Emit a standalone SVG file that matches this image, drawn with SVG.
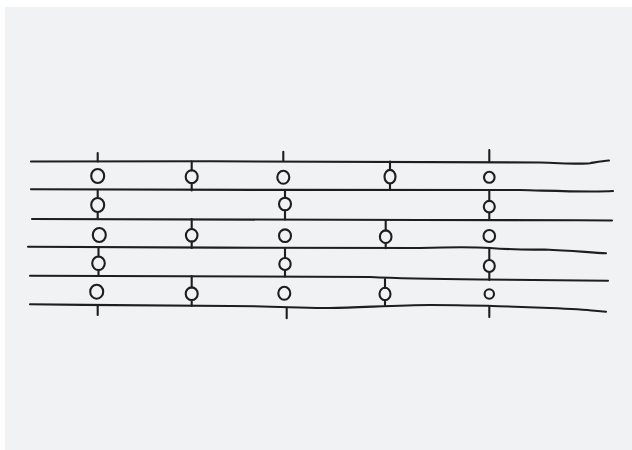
<svg xmlns="http://www.w3.org/2000/svg" width="632" height="450" viewBox="0 0 632 450">
  <style>
    .ink { fill: none; stroke: #1e1e1e; stroke-width: 2.1; stroke-linecap: round; stroke-linejoin: round; }
  </style>
  <rect x="0" y="0" width="632" height="450" fill="#ffffff"/>
  <rect x="5" y="7" width="627" height="443" fill="#f1f2f4"/>

  <!-- six wavy horizontal strands -->
  <g id="strands" class="ink">
    <path d="M31,161.5 C200,161 400,161.5 540,162.5 C565,163.2 580,164.5 590,163.2 C597,162 603,160.8 609,160.5"/>
    <path d="M31,189.3 C150,190.5 400,189.5 520,190 C560,191 590,192.3 613,191"/>
    <path d="M32,219 C150,219 280,219.5 420,220 S560,220 612,220.5"/>
    <path d="M28,246.7 C150,248 300,247.5 420,248 C450,247 470,246.5 490,248 C510,249.5 525,249.8 545,249.5 C570,250.5 590,252.5 606,253.3"/>
    <path d="M30,275.7 C200,275.5 330,276 370,277 C400,278.5 430,279 480,279.5 C540,280 580,280.5 608,280.7"/>
    <path d="M30,304.3 C100,305 180,306 230,306 S300,308.5 330,308 S400,305 430,305 S500,306 550,308 S590,311 606,311.7"/>
  </g>

  <!-- column 1 -->
  <g id="col1" class="ink">
    <path d="M97.7,153 L97.7,161.5"/>
    <ellipse cx="97.7" cy="176" rx="6.5" ry="7"/>
    <path d="M97.7,190 L97.7,198 M97.7,212 L97.7,219"/>
    <ellipse cx="97.7" cy="205" rx="6.5" ry="7"/>
    <ellipse cx="99.3" cy="235" rx="6.5" ry="7"/>
    <path d="M98.5,248 L98.5,256.5 M98.5,270 L98.5,276"/>
    <ellipse cx="98.5" cy="263.3" rx="6.3" ry="6.8"/>
    <ellipse cx="96.7" cy="291.7" rx="6.5" ry="7"/>
    <path d="M97.7,305 L97.7,315"/>
  </g>

  <!-- column 2 -->
  <g id="col2" class="ink">
    <path d="M191.7,161.5 L191.7,170.5 M191.7,183 L191.7,190.5"/>
    <ellipse cx="191.7" cy="176.7" rx="6" ry="6.5"/>
    <path d="M191.7,219 L191.7,229 M191.7,241.5 L191.7,248"/>
    <ellipse cx="191.7" cy="235.3" rx="5.8" ry="6.3"/>
    <path d="M191.7,276 L191.7,287.5 M191.7,300 L191.7,306"/>
    <ellipse cx="191.7" cy="293.7" rx="6" ry="6.3"/>
  </g>

  <!-- column 3 -->
  <g id="col3" class="ink">
    <path d="M283.3,151.7 L283.3,160.8"/>
    <ellipse cx="283.3" cy="177.3" rx="6" ry="6.5"/>
    <path d="M285,190.5 L285,198 M285,210.5 L285,219.5"/>
    <ellipse cx="285" cy="204" rx="6" ry="6.3"/>
    <ellipse cx="285" cy="235.7" rx="6" ry="6.3"/>
    <path d="M285,248 L285,258 M285,270 L285,276.5"/>
    <ellipse cx="285" cy="264" rx="5.7" ry="6"/>
    <ellipse cx="284.3" cy="293.3" rx="6" ry="6.5"/>
    <path d="M286.7,308 L286.7,318.3"/>
  </g>

  <!-- column 4 -->
  <g id="col4" class="ink">
    <path d="M390,161.5 L390,170 M390,183.5 L390,190"/>
    <ellipse cx="390" cy="176.7" rx="5.5" ry="6.8"/>
    <path d="M385.7,220 L385.7,230.5 M385.7,243 L385.7,248.3"/>
    <ellipse cx="385.7" cy="236.7" rx="5.8" ry="6.3"/>
    <path d="M385,279 L385,288 M385,300 L385,305.5"/>
    <ellipse cx="385" cy="294" rx="5.5" ry="6.2"/>
  </g>

  <!-- column 5 -->
  <g id="col5" class="ink">
    <path d="M489.3,150 L489.3,161.7"/>
    <ellipse cx="489.3" cy="177.3" rx="5.3" ry="5.5"/>
    <path d="M489.3,191 L489.3,201 M489.3,212.5 L489.3,220"/>
    <ellipse cx="489.3" cy="206.7" rx="5.5" ry="5.8"/>
    <ellipse cx="489.3" cy="236" rx="5.8" ry="6"/>
    <path d="M489.3,248 L489.3,260 M489.3,272 L489.3,280"/>
    <ellipse cx="489.3" cy="266" rx="5.5" ry="6"/>
    <ellipse cx="489.3" cy="294" rx="4.7" ry="4.7"/>
    <path d="M489.3,307 L489.3,317"/>
  </g>
</svg>
